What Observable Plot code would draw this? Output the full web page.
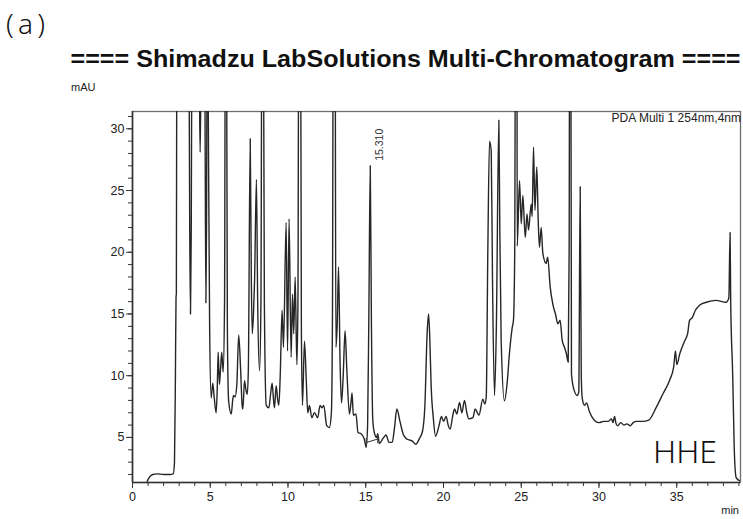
<!DOCTYPE html>
<html><head><meta charset="utf-8">
<script src="https://cdn.jsdelivr.net/npm/d3@7"></script>
<script src="https://cdn.jsdelivr.net/npm/@observablehq/plot@0.6"></script>
<style>
body{margin:0;background:#fff;}
#wrap{width:743px;height:519px;overflow:hidden;}
</style></head><body>
<div id="wrap"></div>
<script>
// retention time (min) and absorbance (mAU); 45+ means off-scale
const time = [0.0,0.85,0.95,1.1,1.3,1.6,2.0,2.4,2.62,2.7,2.76,2.8,2.82,2.86,3.2,3.6,3.68,3.73,3.78,3.84,4.1,4.3,4.35,4.4,4.5,4.66,4.72,4.76,4.82,4.88,4.96,5.06,5.16,5.25,5.38,5.45,5.51,5.59,5.66,5.74,5.83,5.92,5.98,6.03,6.1,6.18,6.35,6.45,6.5,6.6,6.71,6.83,6.95,7.05,7.1,7.2,7.3,7.38,7.45,7.57,7.64,7.7,7.78,7.85,7.97,8.05,8.17,8.26,8.33,8.4,8.48,8.6,8.77,8.88,8.98,9.06,9.13,9.24,9.33,9.41,9.5,9.62,9.71,9.88,9.97,10.07,10.2,10.29,10.37,10.46,10.57,10.64,10.7,10.8,10.86,10.93,11.06,11.17,11.27,11.38,11.53,11.7,11.91,12.06,12.19,12.3,12.49,12.66,12.79,12.86,12.92,13.02,13.08,13.16,13.25,13.35,13.44,13.55,13.67,13.78,13.95,14.05,14.12,14.2,14.37,14.5,14.7,14.9,15.03,15.12,15.2,15.29,15.36,15.45,15.55,15.7,15.77,15.88,16.1,16.3,16.5,16.7,16.85,17.0,17.2,17.4,17.6,17.8,18.0,18.22,18.45,18.65,18.8,18.95,19.04,19.12,19.2,19.35,19.49,19.7,19.87,20.0,20.17,20.3,20.43,20.6,20.71,20.86,21.03,21.18,21.35,21.5,21.63,21.89,22.04,22.28,22.53,22.66,22.75,22.85,22.96,23.07,23.15,23.28,23.4,23.56,23.62,23.71,23.92,24.1,24.24,24.42,24.5,24.58,24.64,24.72,24.74,24.89,25.0,25.1,25.26,25.37,25.47,25.64,25.7,25.79,25.88,26.0,26.09,26.17,26.28,26.39,26.6,26.7,26.86,27.03,27.2,27.36,27.5,27.63,27.78,27.9,28.02,28.08,28.12,28.18,28.23,28.42,28.6,28.7,28.79,28.86,28.92,29.07,29.2,29.38,29.7,30.0,30.3,30.6,30.8,30.9,31.0,31.1,31.2,31.4,31.6,31.8,32.0,32.2,32.4,32.8,33.2,33.68,34.1,34.53,34.8,34.92,35.0,35.2,35.5,35.7,35.82,36.0,36.2,36.46,36.9,37.53,38.17,38.35,38.43,38.47,38.6,38.7,38.82,39.03];
const absorbance = [0.8,1.0,1.45,1.8,2.0,2.05,2.0,2.0,2.05,3.0,10,16.4,16.6,45,60,45,22,15.0,22,45,50,34,28.1,34,45,32,15.9,22,45,30,14,8.2,9.4,8.3,7.0,9,11.9,9.3,10.5,11.9,10.3,16,45,45,14,8.0,6.9,8.1,8.4,8.3,9.3,13.3,10.6,7.6,7.3,9.6,8.8,8.5,10.5,29.2,18,13.4,15,17.7,25.9,16,10.4,16,45,45,16,7.6,7.4,8.5,9.4,8.2,7.4,9.2,8.1,7.6,10,15.3,12.3,22.4,12.0,22.7,11.5,16.6,13.4,18.0,10.9,16,45,45,14,7.6,12.8,9.8,7.0,7.6,6.6,7.0,6.6,7.6,7.4,7.6,5.95,5.8,7.0,15,45,45,12.3,14,18.8,11,7.8,10,13.65,10.6,6.9,7.8,8.6,6.8,6.9,5.4,5.3,4.9,4.2,6,15,27.0,15,6.5,5.4,5.0,5.3,4.5,4.9,5.2,4.6,4.6,5.8,7.3,6.3,5.3,4.9,4.8,4.7,4.45,4.9,5.5,7.5,13.5,15.0,13,9.4,6.5,5.1,5.9,6.7,6.3,6.7,6.0,5.67,6.8,7.3,6.9,7.84,7.0,8.0,7.0,6.5,6.6,7.3,6.8,8.1,7.7,8.3,20,29.0,28.2,18,8.4,14,30.7,22,12.8,7.97,9.5,11.8,13.9,14.5,20,45,45,20.5,25.8,22.3,24.6,21.2,23.1,21.8,23.9,22.9,28.5,23.4,26.9,22.6,20.4,22.0,19.9,19.1,19.6,17.2,15.8,15.0,14.2,14.5,12.9,12.3,11.8,11.1,20,45,45,10.1,8.75,8.4,8.7,25.3,10,8.2,7.6,7.8,7.1,6.4,6.2,6.3,6.3,6.5,6.2,6.7,6.1,5.94,6.2,6.0,6.1,5.94,6.2,6.3,6.3,6.4,7.43,8.5,9.6,10.7,12.0,10.9,11.8,12.8,13.4,14.46,14.7,15.3,15.7,15.95,16.1,15.95,16.3,21.6,16,10,4,1.75,1.5];

const xMajorTicks = [0,5,10,15,20,25,30,35];
const xMinorTicks = [0,1,2,3,4,5,6,7,8,9,10,11,12,13,14,15,16,17,18,19,20,21,22,23,24,25,26,27,28,29,30,31,32,33,34,35,36,37,38,39];
const yMajorTicks = [5,10,15,20,25,30];
const yMinorTicks = [2,3,4,5,6,7,8,9,10,11,12,13,14,15,16,17,18,19,20,21,22,23,24,25,26,27,28,29,30,31];

const peakTimes = [15.31];
const peakHeights = [27.0];
const peakLabels = ["15.310"];

const baselineTimes = [15.03, 15.77];
const baselineValues = [4.59, 4.87];

const rows = time.map((t, i) => ({t, v: absorbance[i]}));
const peaks = peakTimes.map((t, i) => ({t, v: peakHeights[i], label: peakLabels[i]}));
const base = baselineTimes.map((t, i) => ({t, v: baselineValues[i]}));

const font = "'Liberation Sans', Arial, sans-serif";
const chart = Plot.plot({
  width: 743, height: 519,
  marginLeft: 132, marginRight: 3, marginTop: 111, marginBottom: 37,
  style: {fontFamily: font, fontSize: "12.5px", color: "#222", background: "#fff"},
  x: {domain: [0, 39.1], label: null},
  y: {domain: [1.35, 31.4], label: null},
  marks: [
    Plot.frame({stroke: "#6e6e6e", strokeWidth: 1.3}),
    Plot.axisX(xMinorTicks, {tickSize: 4, tickFormat: () => "", label: null, stroke: "#333"}),
    Plot.axisX(xMajorTicks, {tickSize: 6, tickPadding: 4, label: null, stroke: "#333", fill: "#222", fontSize: 12.5}),
    Plot.axisY(yMinorTicks, {tickSize: 4, tickFormat: () => "", label: null, stroke: "#333"}),
    Plot.axisY(yMajorTicks, {tickSize: 6, tickPadding: 2, label: null, stroke: "#333", fill: "#222", fontSize: 12.5}),
    Plot.line(rows, {x: "t", y: "v", stroke: "#262626", strokeWidth: 1.4, curve: "monotone-x", clip: true}),
    Plot.line(base, {x: "t", y: "v", stroke: "#333", strokeWidth: 1}),
    Plot.link(base, {x1: "t", x2: "t", y1: d => d.v - 0.35, y2: d => d.v + 0.35, stroke: "#333", strokeWidth: 1}),
    Plot.text(peaks, {x: "t", y: "v", text: "label", rotate: -90, textAnchor: "start", dx: 9, dy: -5, fontSize: 10.5, fill: "#333"}),
    Plot.ruleX([0], {stroke: "#333", strokeWidth: 1.6}),
    Plot.ruleY([1.35], {stroke: "#333", strokeWidth: 1.6})
  ]
});
document.getElementById("wrap").appendChild(chart);

const svg = d3.select(chart);
const add = (txt, x, y, size, opts = {}) => {
  const el = svg.append("text").attr("x", x).attr("y", y)
    .attr("text-anchor", opts.anchor || "start")
    .attr("font-family", opts.family || font)
    .attr("font-size", size)
    .attr("fill", opts.fill || "#222")
    .text(txt);
  if (opts.weight) el.attr("font-weight", opts.weight);
  if (opts.length) el.attr("textLength", opts.length).attr("lengthAdjust", opts.adjust || "spacingAndGlyphs");
  return el;
};
add("(a)", 6, 34, 28, {family: "'Noto Sans', sans-serif", weight: 300, length: 39, adjust: "spacing", fill: "#111"});
add("==== Shimadzu LabSolutions Multi-Chromatogram ====", 70.5, 67, 23, {weight: "bold", length: 670, fill: "#111"});
add("mAU", 71, 91, 11);
add("min", 739, 514, 11, {anchor: "end"});
add("PDA Multi 1 254nm,4nm", 741, 121.5, 12, {anchor: "end"});
add("HHE", 653, 462.5, 32, {family: "'Noto Sans', sans-serif", weight: 300, length: 64, fill: "#111"});
</script>
</body></html>
